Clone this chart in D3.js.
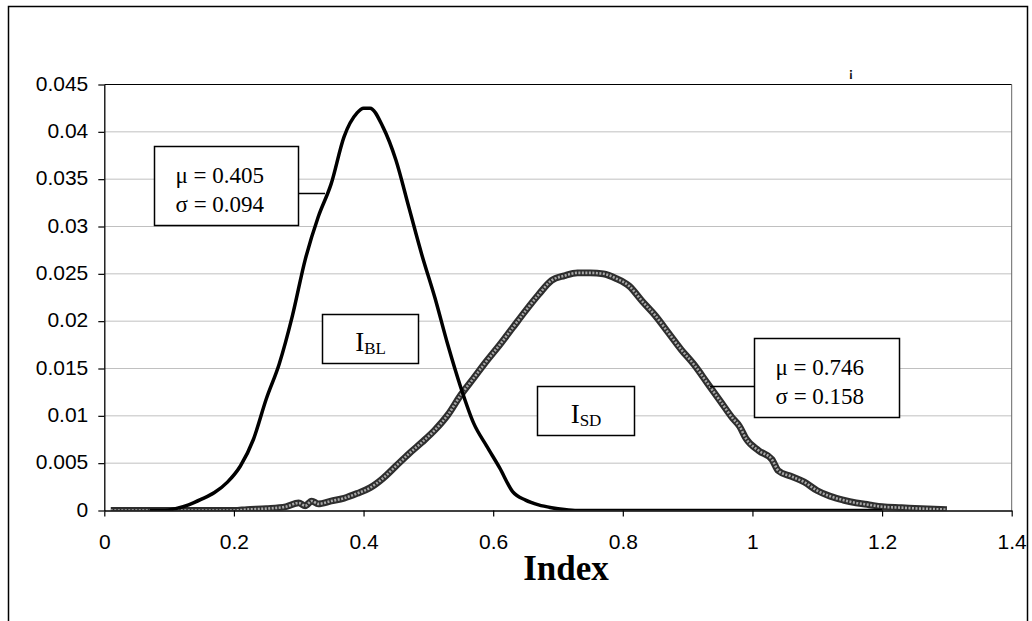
<!DOCTYPE html>
<html>
<head>
<meta charset="utf-8">
<script src="https://cdn.jsdelivr.net/npm/d3@7/dist/d3.min.js"></script>
<style>
  html, body { margin: 0; padding: 0; background: #fff; }
  svg { display: block; }
</style>
</head>
<body>
<svg id="chart" width="1032" height="621"></svg>
<script>
// I_BL frequency distribution (bin width 0.01)
const blIndex = [0.07, 0.09, 0.11, 0.13, 0.15, 0.17, 0.19, 0.21, 0.23, 0.25, 0.27, 0.29, 0.31, 0.33, 0.35,
  0.37, 0.39, 0.40, 0.41, 0.43, 0.45, 0.47, 0.49, 0.51, 0.53, 0.55, 0.57, 0.59, 0.61, 0.63, 0.65,
  0.67, 0.69, 0.71, 0.73, 0.8, 0.9, 1.0, 1.1, 1.2];
const blFreq = [0, 0, 0.0002, 0.0006, 0.0012, 0.0019, 0.003, 0.0047, 0.0075, 0.0118, 0.0155, 0.0205, 0.0265, 0.031, 0.0345,
  0.0395, 0.042, 0.0425, 0.0425, 0.0405, 0.037, 0.032, 0.027, 0.0225, 0.0175, 0.013, 0.0092, 0.0068, 0.0045, 0.002, 0.0011,
  0.0006, 0.0003, 0.0001, 0, 0, 0, 0, 0, 0];

// I_SD frequency distribution (bin width 0.01)
const sdIndex = [0.01, 0.05, 0.1, 0.15, 0.2, 0.22, 0.25, 0.28, 0.30, 0.31, 0.32, 0.33, 0.35, 0.37, 0.39, 0.41, 0.43,
  0.45, 0.47, 0.49, 0.51, 0.53, 0.55, 0.57, 0.59, 0.61, 0.63, 0.65, 0.67, 0.69, 0.71, 0.73, 0.75, 0.77,
  0.79, 0.81, 0.83, 0.85, 0.87, 0.89, 0.91, 0.93, 0.95, 0.97, 0.98, 0.99, 1.01, 1.03, 1.04, 1.06, 1.08,
  1.10, 1.12, 1.14, 1.16, 1.18, 1.20, 1.23, 1.26, 1.30];
const sdFreq = [0, 0, 0, 0, 0, 0.0001, 0.0002, 0.0004, 0.0008, 0.0005, 0.0010, 0.0007, 0.0010, 0.0013, 0.0018, 0.0024, 0.0034,
  0.0047, 0.006, 0.0072, 0.0085, 0.0101, 0.0122, 0.0140, 0.0158, 0.0175, 0.0193, 0.0211, 0.0228, 0.0243, 0.0248, 0.0251, 0.0251, 0.025,
  0.0245, 0.0237, 0.0221, 0.0206, 0.0188, 0.017, 0.0154, 0.0135, 0.0116, 0.0097, 0.0089, 0.0076, 0.0063, 0.0054, 0.0042, 0.0036, 0.003,
  0.0021, 0.0015, 0.0011, 0.0008, 0.0006, 0.0004, 0.0003, 0.0002, 0.0001];

// Axis ticks
const xTicks = [0, 0.2, 0.4, 0.6, 0.8, 1, 1.2, 1.4];
const xTickLabels = ["0", "0.2", "0.4", "0.6", "0.8", "1", "1.2", "1.4"];
const yTicks = [0, 0.005, 0.01, 0.015, 0.02, 0.025, 0.03, 0.035, 0.04, 0.045];
const yTickLabels = ["0", "0.005", "0.01", "0.015", "0.02", "0.025", "0.03", "0.035", "0.04", "0.045"];

// Annotation texts
const blStats = ["\u03bc = 0.405", "\u03c3 = 0.094"];
const sdStats = ["\u03bc = 0.746", "\u03c3 = 0.158"];
const xTitle = "Index";

const svg = d3.select("#chart");
const sans = "'Liberation Sans', Arial, sans-serif";
const serif = "'Liberation Serif', 'Times New Roman', serif";

const x = d3.scaleLinear().domain([0, 1.4]).range([104.3, 1011.7]);
const y = d3.scaleLinear().domain([0, 0.045]).range([510.5, 84.5]);

// outer chart frame
svg.append("rect")
  .attr("x", 8.5).attr("y", 6.5).attr("width", 1019).attr("height", 700)
  .attr("fill", "none").attr("stroke", "#000").attr("stroke-width", 1.5);

// horizontal gridlines
svg.append("g").selectAll("line")
  .data(yTicks.filter(v => v > 0 && v < 0.045))
  .join("line")
  .attr("x1", x(0)).attr("x2", x(1.4))
  .attr("y1", d => y(d)).attr("y2", d => y(d))
  .attr("stroke", "#c0c0c0").attr("stroke-width", 1);

// plot area border (top and right)
svg.append("line")
  .attr("x1", x(0)).attr("x2", x(1.4)).attr("y1", y(0.045)).attr("y2", y(0.045))
  .attr("stroke", "#000").attr("stroke-width", 1.2);
svg.append("line")
  .attr("x1", x(1.4)).attr("x2", x(1.4)).attr("y1", y(0.045)).attr("y2", y(0))
  .attr("stroke", "#666").attr("stroke-width", 1);

// clip so curves sitting on zero are cut at the axis
svg.append("clipPath").attr("id", "plotClip")
  .append("rect")
  .attr("x", x(0)).attr("y", y(0.045) - 10)
  .attr("width", x(1.4) - x(0)).attr("height", y(0) - y(0.045) + 10);

const line = d3.line().x(d => x(d[0])).y(d => y(d[1])).curve(d3.curveMonotoneX);
const blData = blIndex.map((v, i) => [v, blFreq[i]]);
const sdData = sdIndex.map((v, i) => [v, sdFreq[i]]);

const curves = svg.append("g").attr("clip-path", "url(#plotClip)");

// I_SD: thick chain of square markers
curves.append("path").datum(sdData)
  .attr("d", line).attr("fill", "none")
  .attr("stroke", "#2e2e2e").attr("stroke-width", 6.8).attr("stroke-linejoin", "round");
curves.append("path").datum(sdData)
  .attr("d", line).attr("fill", "none")
  .attr("stroke", "#a8a8a8").attr("stroke-width", 2.6)
  .attr("stroke-dasharray", "2 1.5");

// I_BL: solid black line
curves.append("path").datum(blData)
  .attr("d", line).attr("fill", "none")
  .attr("stroke", "#000").attr("stroke-width", 3.5).attr("stroke-linejoin", "round");

// axes
const yAxis = d3.axisLeft(y).tickValues(yTicks)
  .tickFormat((d, i) => yTickLabels[i]).tickSize(6).tickSizeOuter(0).tickPadding(10);
const gy = svg.append("g").attr("transform", `translate(${x(0)},0)`).call(yAxis);
gy.selectAll("text").attr("font-family", sans).attr("font-size", 21).attr("fill", "#000").attr("dy", "0.27em");

const xAxis = d3.axisBottom(x).tickValues(xTicks)
  .tickFormat((d, i) => xTickLabels[i]).tickSize(6).tickSizeOuter(0).tickPadding(17.5);
const gx = svg.append("g").attr("transform", `translate(0,${y(0)})`).call(xAxis);
gx.selectAll("text").attr("font-family", sans).attr("font-size", 21).attr("fill", "#000");

[gx, gy].forEach(g => {
  g.select(".domain").attr("stroke", "#000").attr("stroke-width", 1.3);
  g.selectAll(".tick line").attr("stroke", "#000").attr("stroke-width", 1.2);
});

// x-axis title
svg.append("text")
  .attr("x", 566).attr("y", 580)
  .attr("text-anchor", "middle")
  .attr("font-family", serif).attr("font-weight", "bold").attr("font-size", 35)
  .text(xTitle);

// statistics call-outs
function statBox(bx, by, bw, bh, lines, leader) {
  svg.append("line")
    .attr("x1", leader[0]).attr("x2", leader[1]).attr("y1", leader[2]).attr("y2", leader[2])
    .attr("stroke", "#000").attr("stroke-width", 1.5);
  svg.append("rect")
    .attr("x", bx).attr("y", by).attr("width", bw).attr("height", bh)
    .attr("fill", "#fff").attr("stroke", "#000").attr("stroke-width", 1.5);
  lines.forEach((t, i) => {
    svg.append("text")
      .attr("x", bx + 21).attr("y", by + 36 + i * 29)
      .attr("font-family", serif).attr("font-size", 23)
      .text(t);
  });
}
statBox(154.5, 146.5, 144, 79, blStats, [298, 325, 193.5]);
statBox(754.5, 338.5, 145, 79, sdStats, [710, 754, 386.5]);

// series name boxes with subscripts
function nameBox(bx, by, bw, bh, main, sub) {
  svg.append("rect")
    .attr("x", bx).attr("y", by).attr("width", bw).attr("height", bh)
    .attr("fill", "#fff").attr("stroke", "#000").attr("stroke-width", 1.5);
  const t = svg.append("text")
    .attr("x", bx + bw / 2).attr("y", by + 36)
    .attr("text-anchor", "middle")
    .attr("font-family", serif).attr("font-size", 27);
  t.append("tspan").text(main);
  t.append("tspan").attr("font-size", 17).attr("dy", 3).text(sub);
}
nameBox(322.5, 314.5, 96, 49, "I", "BL");
nameBox(537.5, 386.5, 97, 49, "I", "SD");

// small stray mark near the top
svg.append("text")
  .attr("x", 851).attr("y", 77)
  .attr("text-anchor", "middle")
  .attr("font-family", sans).attr("font-weight", "bold").attr("font-size", 13).attr("fill", "#111")
  .text("\u00a1");
</script>
</body>
</html>
